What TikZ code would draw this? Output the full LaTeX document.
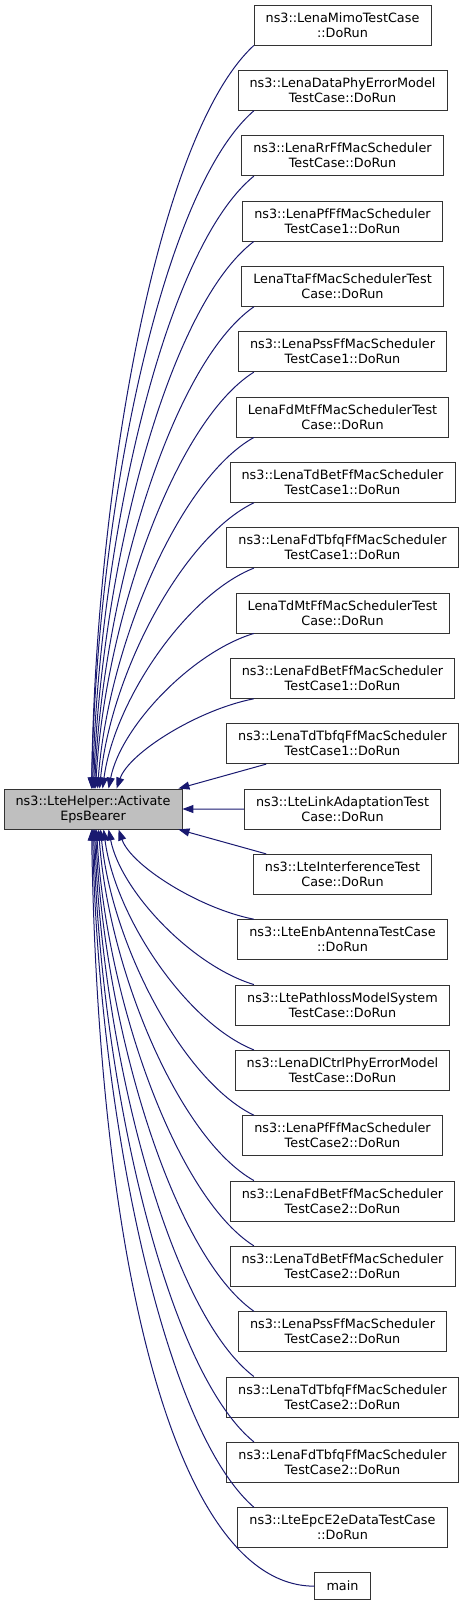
\documentclass[tikz,border=0pt]{standalone}
\usepackage{fontspec}
\setmainfont{DejaVu Sans}
\usepackage{tikz}
\usetikzlibrary{calc}
\usetikzlibrary{arrows.meta}
\definecolor{edgeblue}{RGB}{25,25,112}

\begin{document}
\begin{tikzpicture}[node distance=65.333pt,>={Triangle[length=11pt,width=8pt]},
    fn/.style={draw=black!80, line width=0.9pt, fill=white, align=center,
      inner xsep=11.6pt, inner ysep=0pt, minimum height=40pt,
      font=\fontsize{12.8}{15}\selectfont},
    hit/.style={fn, fill=black!25},
    edge/.style={->, edgeblue, line width=1pt}]

      \useasboundingbox (0,0) rectangle (461pt,-1605pt);

      \node[hit] (aeb) at (93pt,-809pt) {ns3::LteHelper::Activate\\EpsBearer};

      \node[fn] (c1) at (342.5pt,-25pt) {ns3::LenaMimoTestCase\\::DoRun};
      \node[fn] (c2) [below of=c1] {ns3::LenaDataPhyErrorModel\\TestCase::DoRun};
      \node[fn] (c3) [below of=c2] {ns3::LenaRrFfMacScheduler\\TestCase::DoRun};
      \node[fn] (c4) [below of=c3] {ns3::LenaPfFfMacScheduler\\TestCase1::DoRun};
      \node[fn] (c5) [below of=c4] {LenaTtaFfMacSchedulerTest\\Case::DoRun};
      \node[fn] (c6) [below of=c5] {ns3::LenaPssFfMacScheduler\\TestCase1::DoRun};
      \node[fn] (c7) [below of=c6] {LenaFdMtFfMacSchedulerTest\\Case::DoRun};
      \node[fn] (c8) [below of=c7] {ns3::LenaTdBetFfMacScheduler\\TestCase1::DoRun};
      \node[fn] (c9) [below of=c8] {ns3::LenaFdTbfqFfMacScheduler\\TestCase1::DoRun};
      \node[fn] (c10) [below of=c9] {LenaTdMtFfMacSchedulerTest\\Case::DoRun};
      \node[fn] (c11) [below of=c10] {ns3::LenaFdBetFfMacScheduler\\TestCase1::DoRun};
      \node[fn] (c12) [below of=c11] {ns3::LenaTdTbfqFfMacScheduler\\TestCase1::DoRun};
      \node[fn] (c13) [below of=c12] {ns3::LteLinkAdaptationTest\\Case::DoRun};
      \node[fn] (c14) [below of=c13] {ns3::LteInterferenceTest\\Case::DoRun};
      \node[fn] (c15) [below of=c14] {ns3::LteEnbAntennaTestCase\\::DoRun};
      \node[fn] (c16) [below of=c15] {ns3::LtePathlossModelSystem\\TestCase::DoRun};
      \node[fn] (c17) [below of=c16] {ns3::LenaDlCtrlPhyErrorModel\\TestCase::DoRun};
      \node[fn] (c18) [below of=c17] {ns3::LenaPfFfMacScheduler\\TestCase2::DoRun};
      \node[fn] (c19) [below of=c18] {ns3::LenaFdBetFfMacScheduler\\TestCase2::DoRun};
      \node[fn] (c20) [below of=c19] {ns3::LenaTdBetFfMacScheduler\\TestCase2::DoRun};
      \node[fn] (c21) [below of=c20] {ns3::LenaPssFfMacScheduler\\TestCase2::DoRun};
      \node[fn] (c22) [below of=c21] {ns3::LenaTdTbfqFfMacScheduler\\TestCase2::DoRun};
      \node[fn] (c23) [below of=c22] {ns3::LenaFdTbfqFfMacScheduler\\TestCase2::DoRun};
      \node[fn] (c24) [below of=c23] {ns3::LteEpcE2eDataTestCase\\::DoRun};
      \node[fn, minimum height=27pt, node distance=58.5pt] (c25) [below of=c24] {main};

      % callers above
      \foreach \i/\ex in {1/88,2/88,3/89,4/90,5/91,6/92,7/94,8/96,9/99,10/105,11/113}
        \draw[edge] let \p1=(c\i.-167), \p2=($(aeb.north west)+(\ex pt,0pt)$),
          \n1={\x1-\x2}, \n2={\y1-\y2}, \n3={0.38+0.22*abs(\n2)/750}, \n4={0.1-0.075*abs(\n2)/750}
          in (\p1) .. controls (\x1-\n3*\n1, \y1-0.12*\n2) and (\x2+\n4*\n1, \y2+0.4*\n2) .. (\p2);

      \draw[edge] (c12.-165) -- ($(aeb.north east)+(-4pt,0pt)$);
      \draw[edge] (c13.west) -- (aeb.east);
      \draw[edge] (c14.165) -- ($(aeb.south east)+(-4pt,0pt)$);

      % callers below
      \foreach \i/\ex in {15/115,16/105,17/100,18/97,19/95,20/93,21/92,22/91,23/90,24/89}
        \draw[edge] let \p1=(c\i.167), \p2=($(aeb.south west)+(\ex pt,0pt)$),
          \n1={\x1-\x2}, \n2={\y1-\y2}, \n3={0.38+0.22*abs(\n2)/750}, \n4={0.1-0.075*abs(\n2)/750}
          in (\p1) .. controls (\x1-\n3*\n1, \y1-0.12*\n2) and (\x2+\n4*\n1, \y2+0.4*\n2) .. (\p2);

      \draw[edge] (c25.west) .. controls +(-135pt,0pt) and +(7pt,-451pt) .. ($(aeb.south west)+(88pt,0pt)$);
    \end{tikzpicture}
\end{document}
